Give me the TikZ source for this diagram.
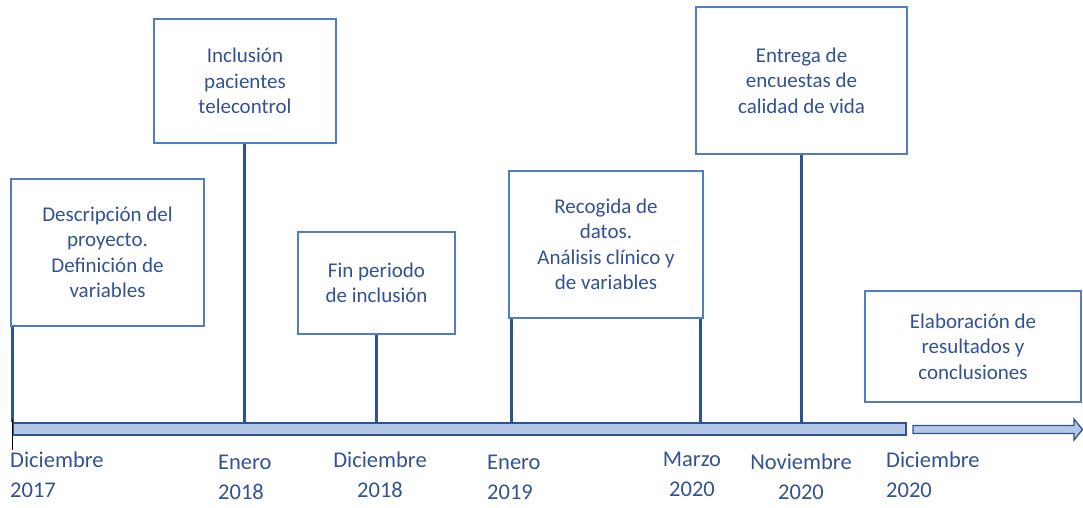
\documentclass[tikz,border=0pt]{standalone}
\usepackage{fontspec}
\setmainfont{Carlito}
\definecolor{txtblue}{RGB}{50,82,148}
\definecolor{boxblue}{RGB}{80,125,195}
\definecolor{stemblue}{RGB}{47,82,145}
\definecolor{barfill}{RGB}{180,199,231}
\begin{document}
\begin{tikzpicture}[x=1pt,y=-1pt,
  evbox/.style={draw=boxblue,line width=1.1pt,fill=white,align=center,text=txtblue,
    font=\fontsize{21}{25.5}\selectfont,inner sep=0pt},
  stem/.style={draw=stemblue,line width=3pt},
  datelbl/.style={text=txtblue,font=\fontsize{22.5}{29.5}\selectfont,inner sep=0pt,anchor=north}]
\useasboundingbox (0,0) rectangle (1083,508);
% bar
\node[draw=stemblue,line width=1.5pt,fill=barfill,minimum width=893pt,minimum height=12pt,inner sep=0pt,anchor=north west] (bar) at (12,422) {};
% arrow
\draw[draw=stemblue,line width=1.3pt,fill=barfill,line join=miter]
  (913,425.5) -- (1074,425.5) -- (1074,419) -- (1082.5,429.5) -- (1074,440) -- (1074,433.5) -- (913,433.5) -- cycle;
% boxes
\node[evbox,minimum width=193pt,minimum height=147pt] (b1) at (107.5,252.5) {Descripción del\\proyecto.\\Definición de\\variables};
\node[evbox,minimum width=182pt,minimum height=124pt] (b2) at (245,81) {Inclusión\\pacientes\\telecontrol};
\node[evbox,minimum width=157pt,minimum height=102pt] (b3) at (376.5,283) {Fin periodo\\de inclusión};
\node[evbox,minimum width=194pt,minimum height=147pt] (b4) at (606,244.5) {Recogida de\\datos.\\Análisis clínico y\\de variables};
\node[evbox,minimum width=211pt,minimum height=147pt] (b5) at (801.5,80.5) {Entrega de\\encuestas de\\calidad de vida};
\node[evbox,minimum width=216pt,minimum height=111pt] (b6) at (973,346.5) {Elaboración de\\resultados y\\conclusiones};
% stems
\draw[stem] ([xshift=2pt]b1.south west) -- ([xshift=2pt]b1.south west |- bar.north);
\draw[stem] ([xshift=-1pt]b2.south) -- ([xshift=-1pt]b2.south |- bar.north);
\draw[stem] (b3.south) -- (b3.south |- bar.north);
\draw[stem] ([xshift=3pt]b4.south west) -- ([xshift=3pt]b4.south west |- bar.north);
\draw[stem] ([xshift=-3pt]b4.south east) -- ([xshift=-3pt]b4.south east |- bar.north);
\draw[stem] (b5.south) -- (b5.south |- bar.north);
% small black tick
\coordinate (tk) at (12.5,450);
\draw[black,line width=0.8pt] (bar.west |- b1.south) ++(0.5,92) -- (tk);
% date labels
\node[datelbl,anchor=north west,align=left] (d1) at (10,452) {Diciembre\\2017};
\node[datelbl,anchor=north west,align=left] (d2) at (218,455) {Enero\\2018};
\node[datelbl,align=center] (d3) at (380,452) {Diciembre\\2018};
\node[datelbl,anchor=north west,align=left] (d4) at (487,455) {Enero\\2019};
\node[datelbl,align=center] (d5) at (692,452) {Marzo\\2020};
\node[datelbl,align=center] (d6) at (801,454) {Noviembre\\2020};
\node[datelbl,anchor=north west,align=left] (d7) at (886,452) {Diciembre\\2020};
\end{tikzpicture}
\end{document}
